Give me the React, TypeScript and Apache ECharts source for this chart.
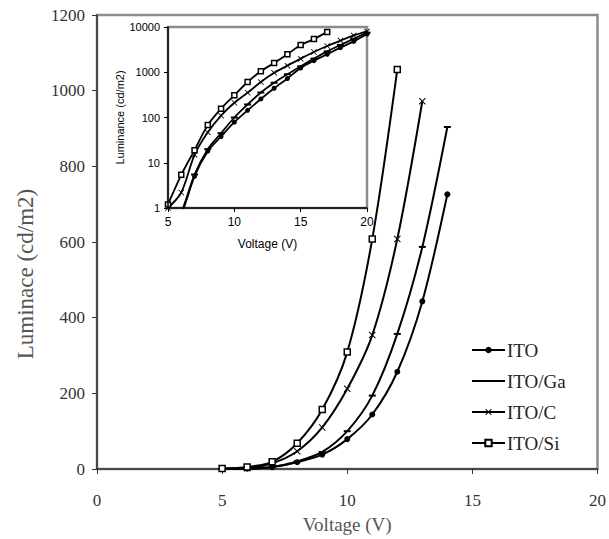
import React, { useEffect, useRef } from "react";
import * as echarts from "echarts";

const voltage = [5, 6, 7, 8, 9, 10, 11, 12, 13, 14, 15, 16, 17, 18, 19, 20];
const ito = [0.2, 0.7, 5, 18, 38, 79, 144, 257, 443, 726, 1240, 1800, 2500, 3500, 4800, 7000];
const itoGa = [0.25, 0.8, 5.5, 20, 45, 100, 194, 357, 587, 904, 1350, 2000, 2900, 4000, 5500, 7500];
const itoC = [1, 2.2, 15, 47, 110, 212, 354, 608, 972, 1400, 2000, 2800, 3800, 5000, 6500, 8000];
const itoSi = [1.2, 5.4, 19, 68, 157, 309, 608, 1056, 1600, 2500, 4000, 5400, 7800];

// how many points of each series fall in the main (linear) plot
const mainCounts = [10, 10, 9, 8];
const names = ["ITO", "ITO/Ga", "ITO/C", "ITO/Si"];

const mainXTicks = { min: 0, max: 20, interval: 5 };
const mainYTicks = { min: 0, max: 1200, interval: 200 };
const insetXTicks = { min: 5, max: 20, interval: 5 };
const insetYTicks = { min: 1, max: 10000 };

const crossPath =
  "path://M0,1L1,0L5,4L9,0L10,1L6,5L10,9L9,10L5,6L1,10L0,9L4,5Z";

const symbols: any[] = [
  { symbol: "circle", symbolSize: 6, itemStyle: { color: "#000" } },
  { symbol: "rect", symbolSize: [7, 2], itemStyle: { color: "#000" } },
  { symbol: crossPath, symbolSize: 7, itemStyle: { color: "#000" } },
  {
    symbol: "rect",
    symbolSize: 6,
    itemStyle: { color: "#fff", borderColor: "#000", borderWidth: 1.5 },
  },
];

const plain = (v: number) => String(v);

export default function App() {
  const ref = useRef<HTMLDivElement>(null);
  useEffect(() => {
    if (!ref.current) return;
    const chart = echarts.init(ref.current, undefined, { renderer: "svg" });
    const all = [ito, itoGa, itoC, itoSi];
    const toPairs = (arr: number[]) => arr.map((v, i) => [voltage[i], v]);

    const mainSeries = all.map((arr, k) => ({
      name: names[k],
      type: "line",
      xAxisIndex: 0,
      yAxisIndex: 0,
      data: toPairs(arr).slice(0, mainCounts[k]),
      smooth: 0.3,
      lineStyle: { color: "#000", width: 2 },
      showSymbol: true,
      ...symbols[k],
      z: 3,
    }));
    const insetSeries = all.map((arr, k) => ({
      name: names[k],
      type: "line",
      xAxisIndex: 1,
      yAxisIndex: 1,
      data: toPairs(arr),
      smooth: 0.3,
      clip: true,
      lineStyle: { color: "#000", width: 1.8 },
      showSymbol: true,
      ...symbols[k],
      symbolSize: Array.isArray(symbols[k].symbolSize)
        ? symbols[k].symbolSize
        : symbols[k].symbolSize - 1,
      z: 5,
    }));

    const serif = "'Liberation Serif', 'Times New Roman', serif";
    const sans = "'Liberation Sans', Arial, sans-serif";

    chart.setOption({
      animation: false,
      backgroundColor: "#fff",
      grid: [
        {
          left: 97,
          right: 7,
          top: 15,
          bottom: 62,
          show: true,
          borderColor: "#8c8c8c",
          borderWidth: 2.5,
          backgroundColor: "#fff",
          z: 0,
        },
        {
          left: 168,
          top: 27,
          width: 199,
          height: 181,
          show: true,
          borderColor: "#8c8c8c",
          borderWidth: 2.5,
          backgroundColor: "#fff",
          z: 4,
        },
      ],
      xAxis: [
        {
          type: "value",
          gridIndex: 0,
          ...mainXTicks,
          name: "Voltage (V)",
          nameLocation: "middle",
          nameGap: 46,
          nameTextStyle: { fontFamily: serif, fontSize: 19, color: "#555" },
          axisLine: { lineStyle: { color: "#333", width: 1.5 } },
          axisTick: { show: true, length: 5, lineStyle: { color: "#333" } },
          axisLabel: { fontFamily: serif, fontSize: 17, color: "#333", margin: 23, formatter: plain },
          splitLine: { show: false },
        },
        {
          type: "value",
          gridIndex: 1,
          ...insetXTicks,
          name: "Voltage (V)",
          nameLocation: "middle",
          nameGap: 30,
          nameTextStyle: { fontFamily: sans, fontSize: 12, color: "#000" },
          axisLine: { lineStyle: { color: "#000", width: 1.5 } },
          axisTick: { show: true, length: 4, lineStyle: { color: "#000" } },
          axisLabel: { fontFamily: sans, fontSize: 12, color: "#000", margin: 8, formatter: plain },
          splitLine: { show: false },
          z: 6,
        },
      ],
      yAxis: [
        {
          type: "value",
          gridIndex: 0,
          ...mainYTicks,
          axisLine: { show: true, lineStyle: { color: "#333", width: 1.5 } },
          axisTick: { show: true, length: 5, lineStyle: { color: "#333" } },
          axisLabel: { fontFamily: serif, fontSize: 17, color: "#333", margin: 12, formatter: plain },
          splitLine: { show: false },
        },
        {
          type: "log",
          logBase: 10,
          gridIndex: 1,
          ...insetYTicks,
          name: "Luminance (cd/m2)",
          nameLocation: "middle",
          nameGap: 40,
          nameTextStyle: { fontFamily: sans, fontSize: 11, color: "#000" },
          axisLine: { show: true, lineStyle: { color: "#000", width: 1.5 } },
          axisTick: { show: true, length: 4, lineStyle: { color: "#000" } },
          axisLabel: { fontFamily: sans, fontSize: 11, color: "#000", margin: 8, formatter: plain },
          splitLine: { show: false },
          minorTick: { show: false },
          z: 6,
        },
      ],
      legend: {
        data: [
          "ITO",
          { name: "ITO/Ga", icon: "path://M0,0L33,0L33,2L0,2Z" },
          "ITO/C",
          "ITO/Si",
        ],
        orient: "vertical",
        left: 466,
        top: 335,
        itemWidth: 33,
        itemHeight: 8,
        itemGap: 11,
        symbolKeepAspect: true,
        textStyle: {
          fontFamily: serif,
          fontSize: 19,
          color: "#222",
          lineHeight: 20,
          padding: [0, 0, 0, -3],
        },
        selectedMode: false,
      },
      graphic: [
        {
          type: "text",
          x: 25,
          y: 274,
          rotation: Math.PI / 2,
          style: {
            text: "Luminace (cd/m2)",
            font: `23px ${serif}`,
            fill: "#555",
            align: "center",
            verticalAlign: "middle",
          },
        },
      ],
      series: [...mainSeries, ...insetSeries],
    });
    return () => chart.dispose();
  }, []);
  return (
    <div
      ref={ref}
      style={{ position: "absolute", left: 0, top: 0, width: 609, height: 539 }}
    />
  );
}
